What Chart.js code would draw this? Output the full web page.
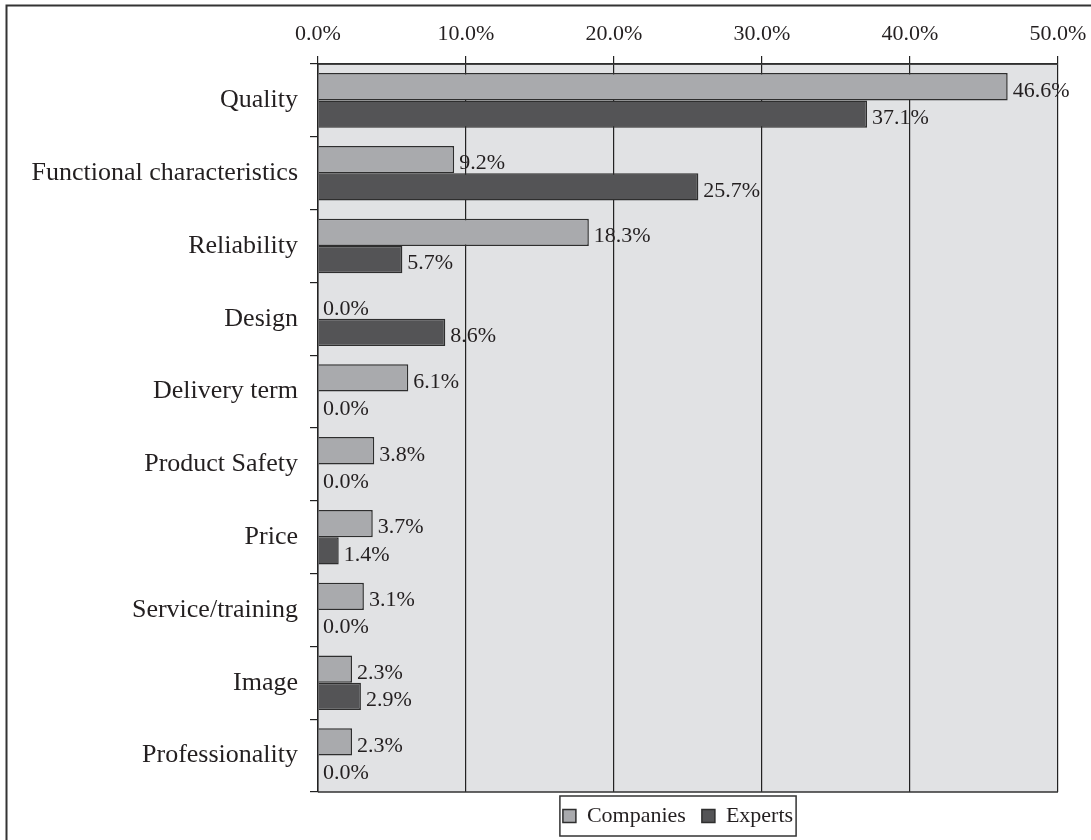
<!DOCTYPE html>
<html>
<head>
<meta charset="utf-8">
<script src="https://cdn.jsdelivr.net/npm/chart.js@4.4.1/dist/chart.umd.min.js"></script>
<style>
html,body{margin:0;padding:0;background:#fff;}
#wrap{position:relative;width:1091px;height:840px;}
</style>
</head>
<body>
<div id="wrap"><canvas id="c" width="1091" height="840"></canvas></div>
<script>
const categories = ["Quality","Functional characteristics","Reliability","Design","Delivery term","Product Safety","Price","Service/training","Image","Professionality"];
const companies = [46.6, 9.2, 18.3, 0.0, 6.1, 3.8, 3.7, 3.1, 2.3, 2.3];
const experts = [37.1, 25.7, 5.7, 8.6, 0.0, 0.0, 1.4, 0.0, 2.9, 0.0];
const seriesNames = ["Companies","Experts"];
const xTicks = [0, 10, 20, 30, 40, 50];

const FONT = "'Liberation Serif', 'Times New Roman', serif";
const TXT = '#231f20';

const framePlugin = {
  id: 'frame',
  afterLayout(chart) {
    const lg = chart.legend;
    if (lg) {
      lg.left = 298; lg.right = 1058;
      lg.top = 789; lg.bottom = 840;
    }
  },
  beforeDraw(chart) {
    const {ctx, chartArea: a} = chart;
    ctx.save();
    ctx.fillStyle = '#e1e2e4';
    ctx.fillRect(a.left, a.top, a.right - a.left, a.bottom - a.top);
    ctx.restore();
  },
  afterDraw(chart) {
    const {ctx, chartArea: a} = chart;
    ctx.save();
    ctx.strokeStyle = '#333';
    ctx.lineWidth = 1.5;
    ctx.beginPath();
    ctx.moveTo(a.left, a.bottom); ctx.lineTo(a.right, a.bottom);
    ctx.moveTo(a.left, a.top); ctx.lineTo(a.right, a.top);
    ctx.stroke();
    // outer figure border
    ctx.lineWidth = 2;
    ctx.beginPath();
    ctx.moveTo(6.5, 840); ctx.lineTo(6.5, 5.5); ctx.lineTo(1091, 5.5);
    ctx.stroke();
    // legend box
    const lg = chart.legend;
    if (lg && lg.legendHitBoxes && lg.legendHitBoxes.length) {
      const hb = lg.legendHitBoxes;
      let l = Infinity, r = -Infinity, t = Infinity, b = -Infinity;
      hb.forEach(h => { l = Math.min(l, h.left); r = Math.max(r, h.left + h.width); t = Math.min(t, h.top); b = Math.max(b, h.top + h.height); });
      if (isFinite(l) && b < 840) {
        ctx.lineWidth = 1.5;
        ctx.strokeRect(l - 3, t - 9, (r - l) + 6, (b - t) + 18);
      }
    }
    ctx.restore();
  }
};

const labelPlugin = {
  id: 'vlabels',
  afterDatasetsDraw(chart) {
    const {ctx} = chart;
    ctx.save();
    ctx.font = "22px " + FONT;
    ctx.fillStyle = TXT;
    ctx.textAlign = 'left';
    ctx.textBaseline = 'middle';
    chart.data.datasets.forEach((ds, di) => {
      const meta = chart.getDatasetMeta(di);
      meta.data.forEach((bar, i) => {
        ctx.fillText(ds.data[i].toFixed(1) + '%', bar.x + 5, bar.y + 4);
      });
    });
    ctx.restore();
  }
};

new Chart(document.getElementById('c'), {
  type: 'bar',
  data: {
    labels: categories,
    datasets: [
      { label: seriesNames[0], data: companies, backgroundColor: '#a9aaad', borderColor: '#2e2e2e', borderWidth: 1.5, borderSkipped: 'left', barPercentage: 1.0, categoryPercentage: 0.75 },
      { label: seriesNames[1], data: experts, backgroundColor: '#545456', borderColor: '#2e2e2e', borderWidth: 1.5, borderSkipped: 'left', barPercentage: 1.0, categoryPercentage: 0.75 }
    ]
  },
  options: {
    indexAxis: 'y',
    responsive: false,
    animation: false,
    devicePixelRatio: 1,
    layout: { padding: { left: 0, right: 33, top: 0, bottom: 0 } },
    scales: {
      x: {
        position: 'top',
        min: 0, max: 50,
        afterBuildTicks(s) { s.ticks = xTicks.map(v => ({value: v})); },
        afterFit(s) { s.height = 64; s.paddingRight = 0; s.paddingLeft = 0; },
        ticks: { callback: v => v.toFixed(1) + '%', font: { family: FONT, size: 22 }, color: TXT, padding: 9, maxRotation: 0 },
        grid: { color: '#222', lineWidth: 1.2, tickLength: 8, drawOnChartArea: true },
        border: { color: '#222', width: 1.5 }
      },
      y: {
        afterFit(s) { s.width = 318; s.paddingTop = 0; s.paddingBottom = 0; },
        ticks: { font: { family: FONT, size: 26 }, color: TXT, padding: 12 },
        grid: { color: '#222', lineWidth: 1.2, tickLength: 8, drawOnChartArea: false, offset: true },
        border: { color: '#222', width: 1.5 }
      }
    },
    plugins: {
      legend: {
        position: 'bottom',
        labels: { font: { family: FONT, size: 22 }, color: TXT, boxWidth: 13, boxHeight: 13, padding: 16 }
      },
      tooltip: { enabled: false }
    }
  },
  plugins: [framePlugin, labelPlugin]
});
</script>
</body>
</html>
